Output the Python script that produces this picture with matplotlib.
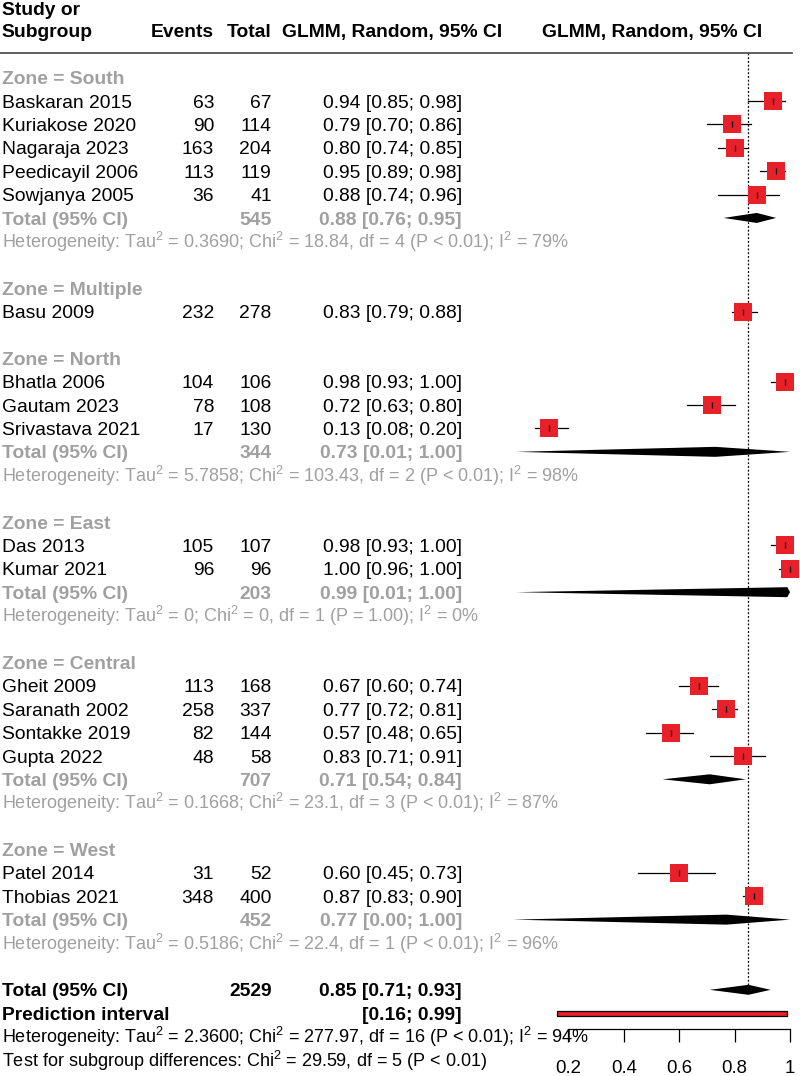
import matplotlib.pyplot as plt

plt.rcParams['font.family'] = ['Liberation Sans', 'DejaVu Sans']
plt.rcParams['mathtext.fontset'] = 'custom'
plt.rcParams['mathtext.rm'] = 'Liberation Sans'
plt.rcParams['mathtext.it'] = 'Liberation Sans'
plt.rcParams['mathtext.bf'] = 'Liberation Sans:bold'

# study level data
study = ['Baskaran 2015', 'Kuriakose 2020', 'Nagaraja 2023', 'Peedicayil 2006', 'Sowjanya 2005',
         'Basu 2009',
         'Bhatla 2006', 'Gautam 2023', 'Srivastava 2021',
         'Das 2013', 'Kumar 2021',
         'Gheit 2009', 'Saranath 2002', 'Sontakke 2019', 'Gupta 2022',
         'Patel 2014', 'Thobias 2021']
zone = ['South'] * 5 + ['Multiple'] + ['North'] * 3 + ['East'] * 2 + ['Central'] * 4 + ['West'] * 2
events = [63, 90, 163, 113, 36, 232, 104, 78, 17, 105, 96, 113, 258, 82, 48, 31, 348]
total = [67, 114, 204, 119, 41, 278, 106, 108, 130, 107, 96, 168, 337, 144, 58, 52, 400]
prop = [0.94, 0.79, 0.80, 0.95, 0.88, 0.83, 0.98, 0.72, 0.13, 0.98, 1.00, 0.67, 0.77, 0.57, 0.83, 0.60, 0.87]
ci_lo = [0.85, 0.70, 0.74, 0.89, 0.74, 0.79, 0.93, 0.63, 0.08, 0.93, 0.96, 0.60, 0.72, 0.48, 0.71, 0.45, 0.83]
ci_hi = [0.98, 0.86, 0.85, 0.98, 0.96, 0.88, 1.00, 0.80, 0.20, 1.00, 1.00, 0.74, 0.81, 0.65, 0.91, 0.73, 0.90]

# subgroup summaries
zone_names = ['South', 'Multiple', 'North', 'East', 'Central', 'West']
zone_n = [545, None, 344, 203, 707, 452]
zone_est = [0.88, None, 0.73, 0.99, 0.71, 0.77]
zone_lo = [0.76, None, 0.01, 0.01, 0.54, 0.00]
zone_hi = [0.95, None, 1.00, 1.00, 0.84, 1.00]
zone_het = ['Tau$^2$ = 0.3690; Chi$^2$ = 18.84, df = 4 (P < 0.01); I$^2$ = 79%',
            None,
            'Tau$^2$ = 5.7858; Chi$^2$ = 103.43, df = 2 (P < 0.01); I$^2$ = 98%',
            'Tau$^2$ = 0; Chi$^2$ = 0, df = 1 (P = 1.00); I$^2$ = 0%',
            'Tau$^2$ = 0.1668; Chi$^2$ = 23.1, df = 3 (P < 0.01); I$^2$ = 87%',
            'Tau$^2$ = 0.5186; Chi$^2$ = 22.4, df = 1 (P < 0.01); I$^2$ = 96%']

# overall
overall_n = 2529
overall_est, overall_lo, overall_hi = 0.85, 0.71, 0.93
pred_lo, pred_hi = 0.16, 0.99
overall_het = 'Heterogeneity: Tau$^2$ = 2.3600; Chi$^2$ = 277.97, df = 16 (P < 0.01); I$^2$ = 94%'
subgroup_test = 'Test for subgroup differences: Chi$^2$ = 29.59, df = 5 (P < 0.01)'

ticks = [0.2, 0.4, 0.6, 0.8, 1.0]
tick_labels = ['0.2', '0.4', '0.6', '0.8', '1']

RED = '#E8202A'
GRAY = '#A0A0A0'
FS = 13.9      # main table text
FS_HET = 13.0  # heterogeneity lines
W, H = 800, 1076
ROW0, DY = 77.6, 23.39          # pixel centre of row 0, row height
X0, XS = 568.3, 277.2           # pixel of 0.2, pixels per unit
DH = 5 / DY                      # diamond half height (rows)
BASE = 6.6 / DY                  # text baseline offset below row centre

fig = plt.figure(figsize=(W / 100, H / 100), dpi=100)
ax = fig.add_axes([0, 0, 1, 1])
ax.set_xlim(0.2 - X0 / XS, 0.2 + (W - X0) / XS)
ax.set_ylim((H - ROW0) / DY, -ROW0 / DY)
tr = ax.get_yaxis_transform()


def px(x):
    return x / W


def txt(x, r, s, ha='left', bold=False, color='black', size=FS):
    ax.text(px(x), r + BASE, s, transform=tr, ha=ha, va='baseline', fontsize=size,
            fontweight='bold' if bold else 'normal', color=color)


def diamond(r, est, lo, hi):
    ax.fill([lo, est, hi, est], [r, r - DH, r, r + DH], color='black', lw=0)


def fmt(e, l, h):
    return f'{e:.2f} [{l:.2f}; {h:.2f}]'


# header
def hdr(x, y_px, s, ha):
    ax.text(px(x), (y_px - ROW0) / DY, s, transform=tr, ha=ha, va='baseline',
            fontsize=FS, fontweight='bold')


hdr(2, 15.3, 'Study or', 'left')
hdr(2, 37.3, 'Subgroup', 'left')
hdr(214, 37.3, 'Events', 'right')
hdr(271.7, 37.3, 'Total', 'right')
hdr(392.5, 37.3, 'GLMM, Random, 95% CI', 'center')
hdr(652, 37.3, 'GLMM, Random, 95% CI', 'center')
ax.plot([0, 792 / W], [(53.3 - ROW0) / DY] * 2, transform=tr, color='#444444', lw=1.2)

r = 0
for zi, zn in enumerate(zone_names):
    txt(2, r, f'Zone = {zn}', bold=True, color=GRAY)
    r += 1
    for i in range(len(study)):
        if zone[i] != zn:
            continue
        txt(2, r, study[i])
        txt(214, r, str(events[i]), ha='right')
        txt(271.7, r, str(total[i]), ha='right')
        txt(462, r, fmt(prop[i], ci_lo[i], ci_hi[i]), ha='right')
        ax.plot([ci_lo[i], ci_hi[i]], [r, r], color='black', lw=0.9, zorder=2)
        ax.scatter([prop[i]], [r], marker='s', s=172, color=RED, lw=0, zorder=3)
        ax.plot([prop[i]], [r], marker='|', ms=5, mew=0.9, color='black', zorder=4)
        r += 1
    if zone_n[zi] is not None:
        txt(2, r, 'Total (95% CI)', bold=True, color=GRAY)
        txt(271.7, r, str(zone_n[zi]), ha='right', bold=True, color=GRAY)
        txt(462, r, fmt(zone_est[zi], zone_lo[zi], zone_hi[zi]), ha='right', bold=True, color=GRAY)
        diamond(r, zone_est[zi], zone_lo[zi], zone_hi[zi])
        r += 1
        txt(2, r, 'Heterogeneity: ' + zone_het[zi], color=GRAY, size=FS_HET)
        r += 1
    r += 1

# overall rows
txt(2, r, 'Total (95% CI)', bold=True)
txt(271.7, r, str(overall_n), ha='right', bold=True)
txt(462, r, fmt(overall_est, overall_lo, overall_hi), ha='right', bold=True)
diamond(r, overall_est, overall_lo, overall_hi)
ax.plot([overall_est, overall_est], [(53.3 - ROW0) / DY, r - DH], color='black', lw=0.9,
        ls=(0, (1.5, 1.5)), zorder=1)
r += 1
txt(2, r, 'Prediction interval', bold=True)
txt(462, r, f'[{pred_lo:.2f}; {pred_hi:.2f}]', ha='right', bold=True)
ax.barh(r, pred_hi - pred_lo, left=pred_lo, height=5 / DY, color=RED, edgecolor='black', lw=0.9)
r += 1
txt(2, r, overall_het, size=FS_HET)
r += 1
txt(2, r, subgroup_test, size=FS_HET)

# x axis
for s in ['top', 'right', 'left']:
    ax.spines[s].set_visible(False)
ax.spines['bottom'].set_position(('data', (1029 - ROW0) / DY))
ax.spines['bottom'].set_bounds(0.2, 1.0)
ax.spines['bottom'].set_linewidth(0.9)
ax.set_xticks(ticks)
ax.set_xticklabels(tick_labels)
ax.tick_params(axis='x', direction='out', length=9, width=0.9, pad=13, labelsize=13.4)
ax.set_yticks([])

fig.savefig('out.png', dpi=100)
